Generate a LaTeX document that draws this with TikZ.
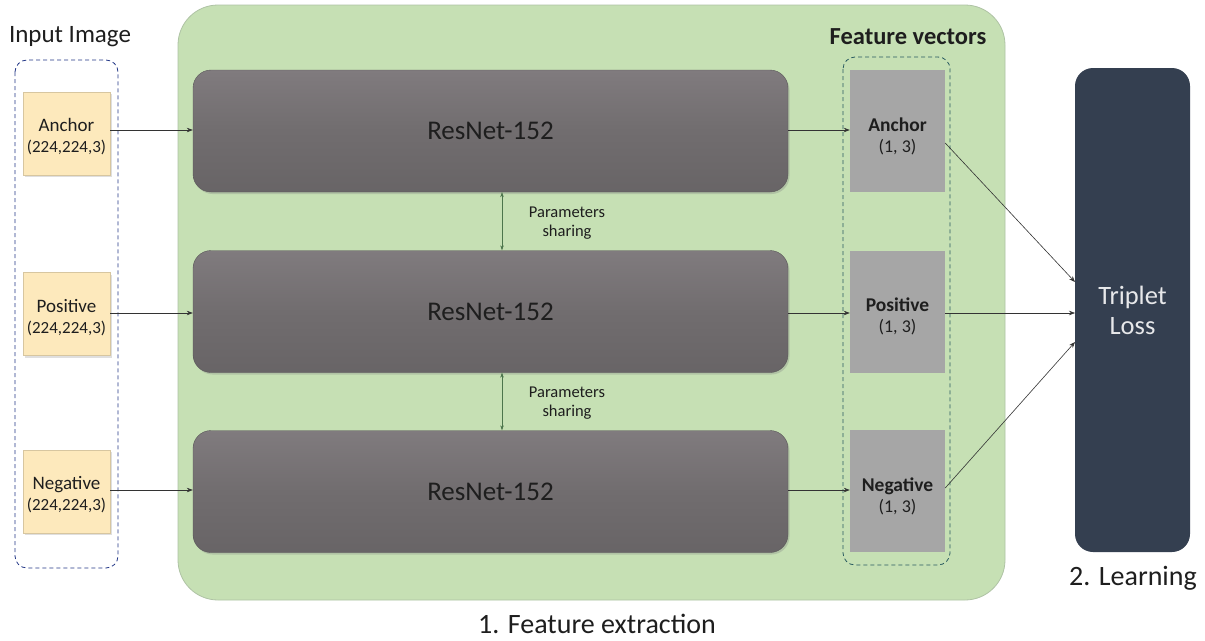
\documentclass[tikz,border=0pt]{standalone}
\usepackage{fontspec}
\setmainfont{Carlito}
\usetikzlibrary{arrows.meta,shadows}
\definecolor{bggreen}{RGB}{198,224,180}
\definecolor{bgedge}{RGB}{175,195,165}
\definecolor{inyellow}{RGB}{253,233,188}
\definecolor{resgrey}{RGB}{113,109,111}
\definecolor{restop}{RGB}{128,123,126}
\definecolor{fvgrey}{RGB}{166,166,166}
\definecolor{navy}{RGB}{52,63,80}
\definecolor{dashblue}{RGB}{35,55,135}
\definecolor{dashteal}{RGB}{40,90,95}
\definecolor{txt}{RGB}{30,30,30}
\tikzset{
  inbox/.style={draw=inyellow!85!black, line width=0.4pt, fill=inyellow, minimum width=87pt, minimum height=83pt, drop shadow={shadow xshift=2pt, shadow yshift=-2pt, opacity=0.25}},
  intext/.style={align=center, font=\fontsize{19}{22}\selectfont, text=txt, inner sep=0pt},
  resbox/.style={rounded corners=18pt, minimum width=595pt, minimum height=122pt, top color=restop, bottom color=resgrey!92!black, middle color=resgrey, draw=resgrey!80!black, font=\fontsize{27}{30}\selectfont, text=txt, drop shadow={shadow xshift=1.5pt, shadow yshift=-2pt, opacity=0.3}},
  fvbox/.style={fill=fvgrey, minimum width=95pt, minimum height=122pt},
  fvtext/.style={align=center, font=\fontsize{19.5}{22}\selectfont, text=txt, inner sep=0pt},
  conn/.style={-{Stealth[length=6pt,width=4.5pt]}, line width=0.6pt, draw=black!80},
  share/.style={{Stealth[length=5pt,width=3.5pt]}-{Stealth[length=5pt,width=3.5pt]}, line width=0.5pt, draw=black!60!green!40!gray},
  dashbox/.style={dash pattern=on 4pt off 3pt, line width=0.8pt, rounded corners=12pt},
  lbl/.style={font=\fontsize{25}{30}\selectfont, text=txt},
  small/.style={font=\fontsize{16.5}{19.5}\selectfont, text=txt, align=center}
}
\begin{document}
\begin{tikzpicture}[x=1pt,y=-1pt]
\useasboundingbox[fill=white] (0,0) rectangle (1205,640);
% green background
\draw[bgedge, fill=bggreen, rounded corners=40pt, line width=0.8pt] (178,5) rectangle (1005,600);
% dashed containers
\draw[dashbox, dashblue] (15,60) rectangle (118,568);
\draw[dashbox, dashteal] (843,57) rectangle (950,565);
% titles
\node[lbl] (tin) at (70,37) {Input Image};
\node[lbl, font=\bfseries\fontsize{24.5}{28}\selectfont] (tfv) at (908,37) {Feature vectors};
\node[lbl, font=\fontsize{28}{32}\selectfont] (tfe) at (597,624) {1. Feature extraction};
\node[lbl, font=\fontsize{28}{32}\selectfont] (tlr) at (1133,578) {2. Learning};
% input boxes
\node[inbox] (ia) at (66.5,133.5) {};
\node[inbox] (ip) at (66.5,314) {};
\node[inbox] (in) at (66.5,491.5) {};
\node[intext] (iat) at (66.5,137) {Anchor\\[-1pt]{\fontsize{17}{19}\selectfont(224,224,3)}};
\node[intext] (ipt) at (66.5,317.5) {Positive\\[-1pt]{\fontsize{17}{19}\selectfont(224,224,3)}};
\node[intext] (int) at (66.5,495) {Negative\\[-1pt]{\fontsize{17}{19}\selectfont(224,224,3)}};
% resnet boxes
\node[resbox] (ra) at (490.5,131) {ResNet-152};
\node[resbox] (rp) at (490.5,311.5) {ResNet-152};
\node[resbox] (rn) at (490.5,491.5) {ResNet-152};
% feature vector boxes
\node[fvbox] (fa) at (897.5,131) {};
\node[fvbox] (fp) at (897.5,311.5) {};
\node[fvbox] (fn) at (897.5,491) {};
\node[fvtext] (fat) at (897.5,136) {\textbf{Anchor}\\[-1pt]{\fontsize{18}{20}\selectfont(1, 3)}};
\node[fvtext] (fpt) at (897.5,316.5) {\textbf{Positive}\\[-1pt]{\fontsize{18}{20}\selectfont(1, 3)}};
\node[fvtext] (fnt) at (897.5,496) {\textbf{Negative}\\[-1pt]{\fontsize{18}{20}\selectfont(1, 3)}};
% triplet loss
\node[fill=navy, rounded corners=18pt, minimum width=115pt, minimum height=484pt, align=center, text=white!88!navy, font=\fontsize{26.5}{30}\selectfont] (tl) at (1132.5,310) {Triplet\\Loss};
% parameters sharing
\coordinate (s1) at (ra.south -| 502,0);
\coordinate (s2) at (rp.north -| 502,0);
\coordinate (s3) at (rp.south -| 502,0);
\coordinate (s4) at (rn.north -| 502,0);
\draw[share] (s1) -- (s2);
\draw[share] (s3) -- (s4);
\node[small] (ps1) at (567,223) {Parameters\\sharing};
\node[small] (ps2) at (567,403) {Parameters\\sharing};
% connectors
\draw[conn] (ia.east |- 0,130) -- (ra.west |- 0,130);
\draw[conn] (ip.east |- 0,313) -- (rp.west |- 0,313);
\draw[conn] (in.east |- 0,490) -- (rn.west |- 0,490);
\draw[conn] (ra.east |- 0,130) -- (fa.west |- 0,130);
\draw[conn] (rp.east |- 0,313) -- (fp.west |- 0,313);
\draw[conn] (rn.east |- 0,490) -- (fn.west |- 0,490);
\coordinate (ta) at (1075,282);
\coordinate (tp) at (1075,313);
\coordinate (tn) at (1075,342);
\draw[conn] (fa.east |- 0,143) -- (ta);
\draw[conn] (fp.east |- 0,313) -- (tp);
\draw[conn] (fn.east |- 0,488) -- (tn);
\end{tikzpicture}
\end{document}
